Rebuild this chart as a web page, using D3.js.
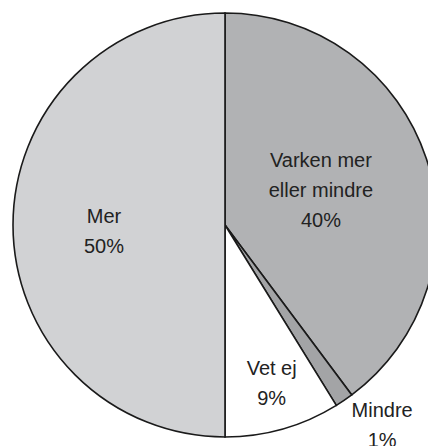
<!DOCTYPE html>
<html>
<head>
<meta charset="utf-8">
<script src="https://cdn.jsdelivr.net/npm/d3@7"></script>
<style>
  html, body { margin: 0; padding: 0; background: #fff; overflow: hidden; }
  svg { display: block; }
</style>
</head>
<body>
<svg id="chart" width="428" height="446"></svg>
<script>
const categories = ["Varken mer eller mindre", "Mindre", "Vet ej", "Mer"];
const labelLines = [["Varken mer", "eller mindre"], ["Mindre"], ["Vet ej"], ["Mer"]];
const shareLabels = ["40%", "1%", "9%", "50%"];
const values = [39.8, 1.4, 8.8, 50.0];
const colors = ["#b1b2b4", "#a3a4a6", "#ffffff", "#d1d2d4"];

const svg = d3.select("#chart");
const cx = 225, cy = 225, R = 212;
const g = svg.append("g").attr("transform", `translate(${cx},${cy})`);

const pie = d3.pie().sort(null).value(d => d).startAngle(0).endAngle(2 * Math.PI);
const arcs = pie(values);
const arc = d3.arc().innerRadius(0).outerRadius(R);

g.selectAll("path.slice")
  .data(arcs)
  .enter().append("path")
  .attr("class", "slice")
  .attr("d", arc)
  .attr("fill", (d, i) => colors[i])
  .attr("stroke", "#1a1a1a")
  .attr("stroke-width", 1.6)
  .attr("stroke-linejoin", "miter");

// label layout: radius along slice bisector plus small nudges
const labelRadius = [100, 260, 171, 121];
const labelNudge = [[1, 3], [11, -8], [0, 0], [0, 13]];
const lineH = 30;

arcs.forEach((d, i) => {
  const la = d3.arc().innerRadius(labelRadius[i]).outerRadius(labelRadius[i]);
  let [x, y] = la.centroid({ startAngle: d.startAngle, endAngle: d.endAngle });
  x += labelNudge[i][0];
  y += labelNudge[i][1];
  const lines = labelLines[i].concat([shareLabels[i]]);
  const n = lines.length;
  const t = g.append("text")
    .attr("text-anchor", "middle")
    .attr("font-family", "'Liberation Sans', Arial, Helvetica, sans-serif")
    .attr("font-size", 20)
    .attr("fill", "#222");
  lines.forEach((s, k) => {
    t.append("tspan")
      .attr("x", x)
      .attr("y", y + (k - (n - 1) / 2) * lineH)
      .text(s);
  });
});
</script>
</body>
</html>
